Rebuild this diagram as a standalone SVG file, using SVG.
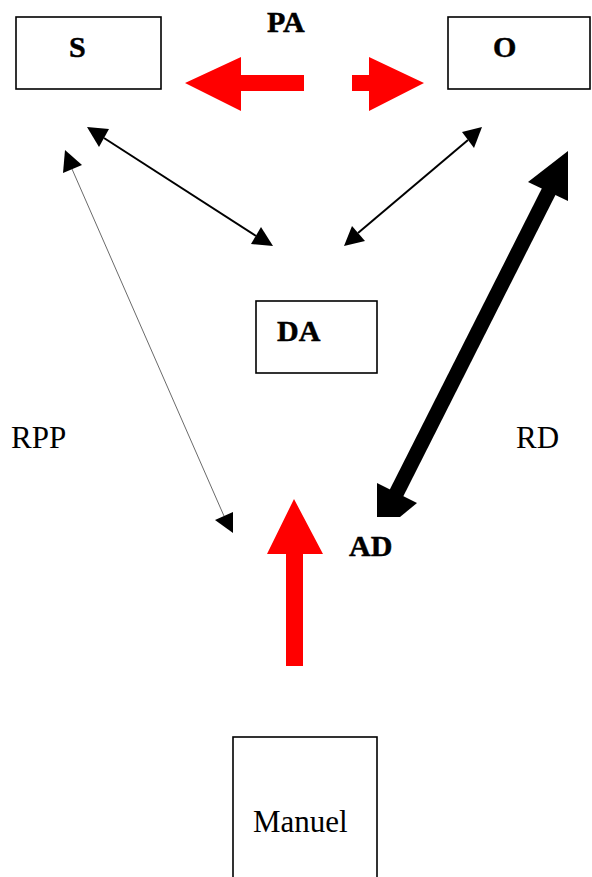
<svg xmlns="http://www.w3.org/2000/svg" width="592" height="877" viewBox="0 0 592 877">
  <style>
    .box { fill: #ffffff; stroke: #000000; stroke-width: 1.6; }
    .lbl { font-family: "Liberation Serif", "Times New Roman", serif; font-size: 30px; font-weight: bold; fill: #000000; stroke: #000000; stroke-width: 0.5; }
    .txt { font-family: "Liberation Serif", "Times New Roman", serif; font-size: 31px; fill: #000000; }
    .red { fill: #ff0000; }
    .blk { fill: #000000; }
    .link { stroke: #000000; stroke-width: 2; fill: none; }
    .thin { stroke: #444444; stroke-width: 0.8; fill: none; }
    .thick { stroke: #000000; stroke-width: 15; fill: none; }
  </style>
  <rect width="592" height="877" fill="#ffffff"/>

  <g id="node-S">
    <rect class="box" x="16" y="17" width="145" height="72"/>
    <text class="lbl" x="69" y="57">S</text>
  </g>
  <g id="node-O">
    <rect class="box" x="448" y="17" width="142" height="72"/>
    <text class="lbl" x="493" y="57">O</text>
  </g>
  <g id="node-DA">
    <rect class="box" x="256" y="301" width="121" height="72"/>
    <text class="lbl" x="277" y="341">DA</text>
  </g>
  <g id="node-AD">
    <text class="lbl" x="349" y="556">AD</text>
  </g>
  <g id="node-Manuel">
    <rect class="box" x="233" y="737" width="144" height="150"/>
    <text class="txt" x="253" y="832">Manuel</text>
  </g>

  <g id="labels">
    <text class="lbl" x="267" y="32">PA</text>
    <text class="txt" x="11" y="448">RPP</text>
    <text class="txt" x="516" y="448">RD</text>
  </g>

  <g id="connectors">
    <!-- PA: red block arrows between S and O -->
    <polygon class="red" points="185,83 241,57 241,75 304,75 304,91 241,91 241,111"/>
    <polygon class="red" points="352,75 369,75 369,57 424,83 369,111 369,91 352,91"/>
    <!-- Manuel up to AD -->
    <polygon class="red" points="294,499 323,554 303,554 303,666 286,666 286,554 267,554"/>

    <!-- S <-> DA -->
    <line class="link" x1="104" y1="138" x2="256" y2="236"/>
    <polygon class="blk" points="87,127 109,129 99,147"/>
    <polygon class="blk" points="273,246 251,244 261,227"/>

    <!-- O <-> DA -->
    <line class="link" x1="468" y1="140" x2="358" y2="233"/>
    <polygon class="blk" points="482,127 462,132 474,148"/>
    <polygon class="blk" points="344,246 352,226 365,241"/>

    <!-- RPP: S <-> AD -->
    <line class="thin" x1="72" y1="169" x2="224" y2="516"/>
    <polygon class="blk" points="65,150 63,173 82,165"/>
    <polygon class="blk" points="233,533 215,520 233,512"/>

    <!-- RD: O <-> AD -->
    <line class="thick" x1="549" y1="191" x2="396" y2="494"/>
    <polygon class="blk" points="528,182 568,151 568,201"/>
    <polygon class="blk" points="377,483 417,503 400,517 377,517"/>
  </g>
</svg>
